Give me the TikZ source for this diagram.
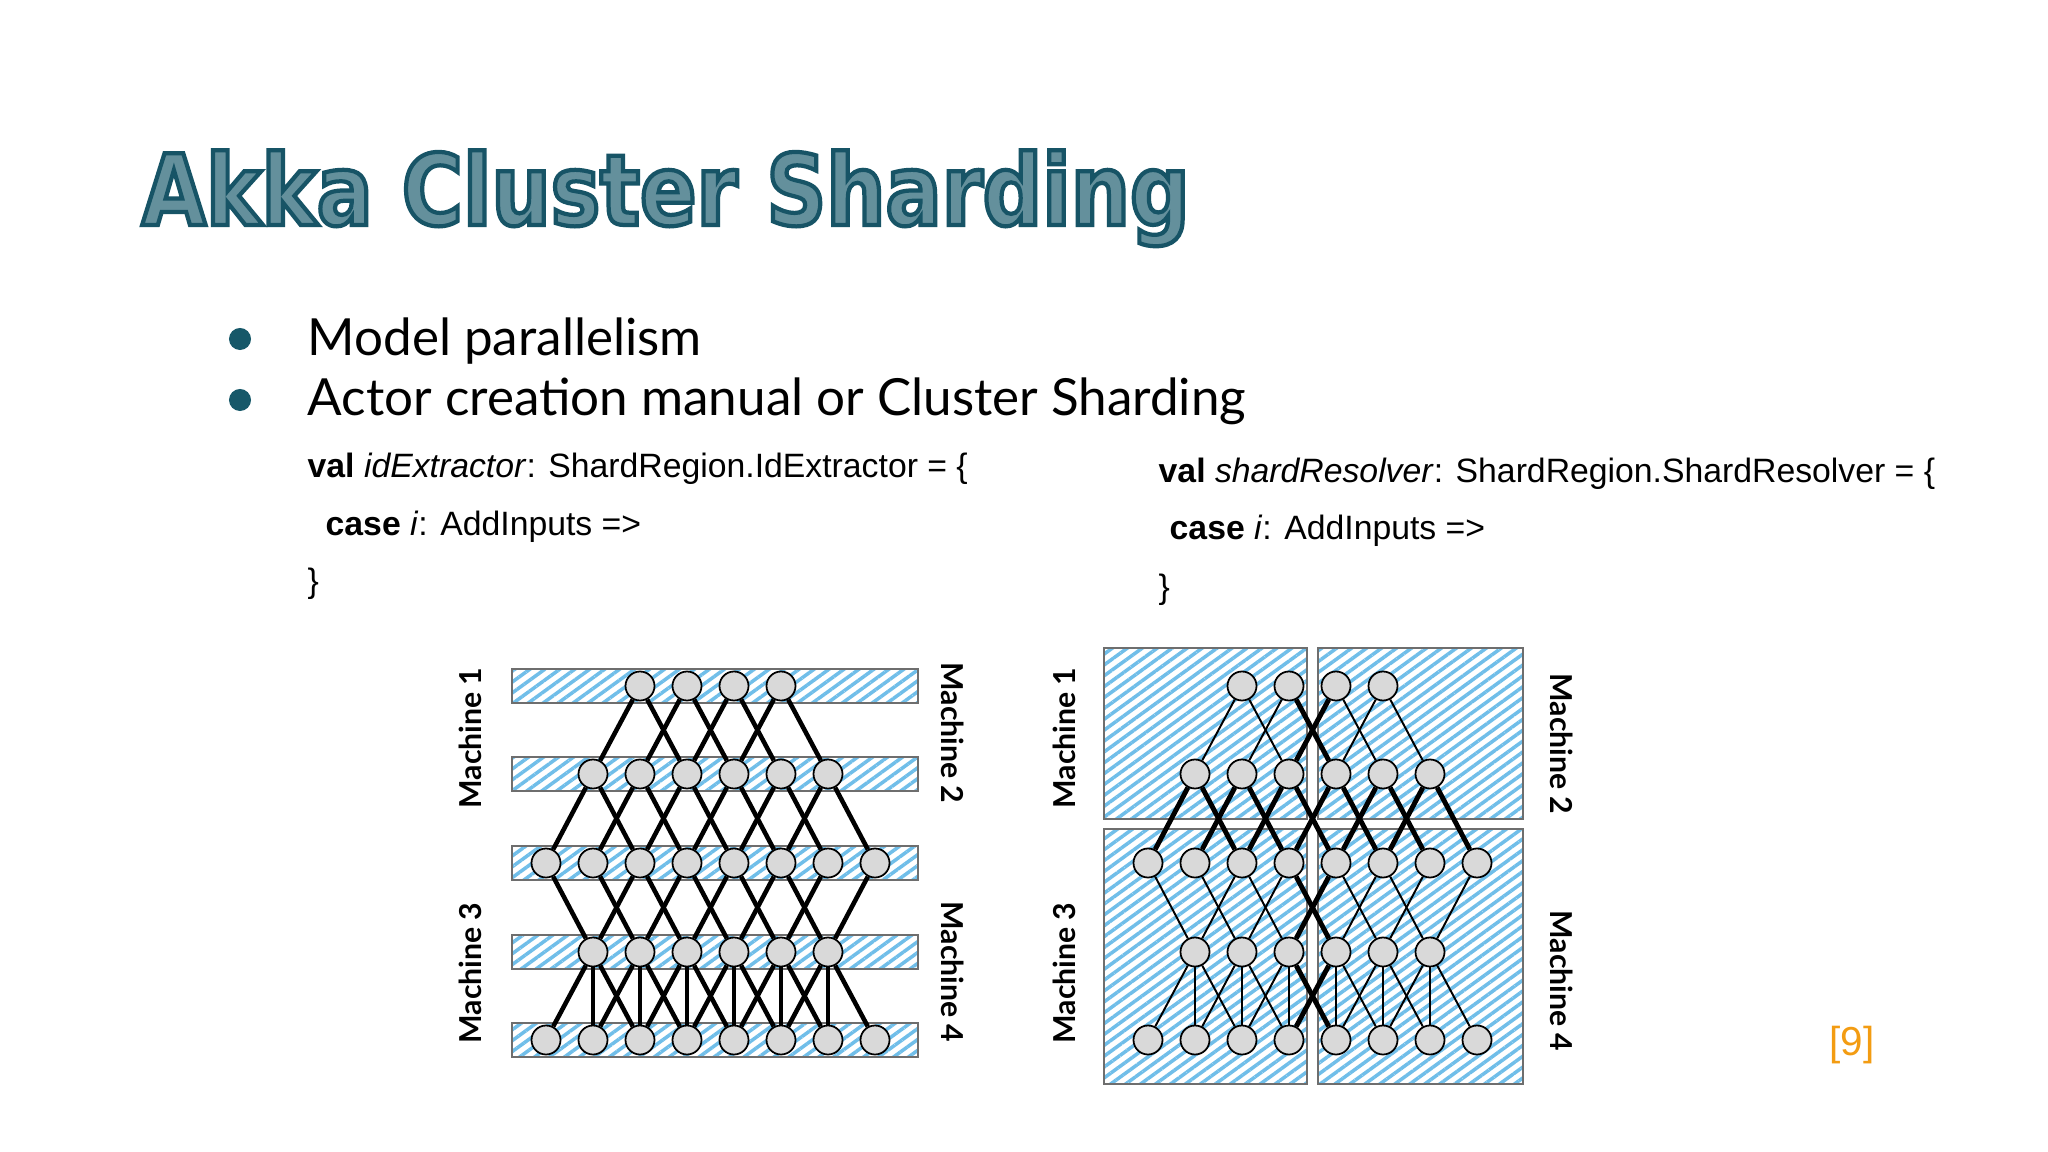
\documentclass[tikz,border=0pt]{standalone}
\usepackage{fontspec}
\setmainfont{Liberation Sans}
\newfontfamily\latofont{Lato}
\newfontfamily\titlefont{DejaVu Sans}[FakeStretch=0.845]
\usepackage{xcolor}
\usetikzlibrary{patterns.meta}

\definecolor{tealdark}{RGB}{22,88,105}
\definecolor{titlefill}{RGB}{100,144,156}
\definecolor{hatchblue}{RGB}{112,190,233}
\definecolor{framegray}{RGB}{110,110,110}
\definecolor{nodegray}{RGB}{217,217,217}
\definecolor{refcolor}{RGB}{243,156,18}

\newcommand\outlinetext[1]{\special{pdf:code q 2 Tr 1.2 w 0.09 0.33 0.40 RG}#1\special{pdf:code Q}}

\begin{document}
\begin{tikzpicture}[
    x=0.01cm, y=-0.01cm,
    unit/.style = {draw, circle, fill=nodegray, line width=0.5pt, minimum size=0.29cm, inner sep=0pt},
    link/.style = {line width=1.3pt},
    link0/.style = {line width=0.55pt},
    link1/.style = {line width=1.4pt},
    shard/.style = {draw=framegray, line width=0.6pt, pattern={Lines[angle=36,distance=2.5pt,line width=1pt]}, pattern color=hatchblue},
    machine/.style = {inner sep=0pt, font=\latofont\bfseries\fontsize{8.6pt}{10pt}\selectfont},
    bullet/.style = {circle, fill=tealdark, minimum size=0.22cm, inner sep=0pt},
    item/.style = {anchor=base west, inner sep=0pt, font=\latofont\fontsize{14.55pt}{17pt}\selectfont},
    code/.style = {anchor=base west, inner sep=0pt, font=\fontsize{9.6pt}{12pt}\selectfont}
]
    \useasboundingbox (0,0) rectangle (2048,1152);
    \fill[white] (0,0) rectangle (2048,1152);

    % title and bullets
    \node[anchor=base west, inner sep=0pt, text=titlefill, font=\titlefont\bfseries\fontsize{28pt}{32pt}\selectfont] (title) at (141,225) {\outlinetext{Akka Cluster Sharding}};
    \node[bullet] (b1) at (240,339) {};
    \node[item] (t1) at (307,356) {Model parallelism};
    \node[bullet] (b2) at (240,400) {};
    \node[item] (t2) at (307,416) {Actor creation manual or Cluster Sharding};

    % code
    \node[code] (c1) at (307,478) {\textbf{val} \textit{idExtractor}: ShardRegion.IdExtractor = \{};
    \node[code] (c2) at (325,535) {\textbf{case} \textit{i}: AddInputs =>};
    \node[code] (c3) at (307,593) {\}};
    \node[code] (d1) at (1158,483) {\textbf{val} \textit{shardResolver}: ShardRegion.ShardResolver = \{};
    \node[code] (d2) at (1169,540) {\textbf{case} \textit{i}: AddInputs =>};
    \node[code] (d3) at (1158,598) {\}};

    % machines
    \foreach \y in {686,774,863,952,1040}
        \draw[shard] (512,\y-17) rectangle (918,\y+17);
    \draw[shard] (1104,648) rectangle (1307,819);
    \draw[shard] (1318,648) rectangle (1523,819);
    \draw[shard] (1104,829) rectangle (1307,1084);
    \draw[shard] (1318,829) rectangle (1523,1084);

    \node[machine, rotate=90] (m1) at (470,738) {Machine 1};
    \node[machine, rotate=90] (m3) at (470,973) {Machine 3};
    \node[machine, rotate=-90] (m2) at (953,733) {Machine 2};
    \node[machine, rotate=-90] (m4) at (953,972) {Machine 4};
    \node[machine, rotate=90] (n1) at (1064,738) {Machine 1};
    \node[machine, rotate=90] (n3) at (1064,973) {Machine 3};
    \node[machine, rotate=-90] (n2) at (1562,744) {Machine 2};
    \node[machine, rotate=-90] (n4) at (1562,981) {Machine 4};

    % units
    \foreach \r/\y/\first/\last in {1/686/2/5, 2/774/1/6, 3/863/0/7, 4/952/1/6, 5/1040/0/7}
        \foreach \i in {\first,...,\last} {
            \node[unit] (L\r-\i) at (546+47*\i,\y) {};
            \node[unit] (R\r-\i) at (1148+47*\i,\y) {};
        }

    % links, layers 1-2 and 2-3
    \foreach \r/\first/\last in {1/2/5, 2/1/6} {
        \pgfmathtruncatemacro\s{\r+1}
        \foreach \k in {\first,...,\last}
            \foreach \d in {-1,1} {
                \pgfmathtruncatemacro\j{\k+\d}
                \pgfmathtruncatemacro\w{(\r==2) || ((\k<4) != (\j<4))}
                \draw[link] (L\r-\k) -- (L\s-\j);
                \draw[link\w] (R\r-\k) -- (R\s-\j);
            }
    }
    % layers 3-4
    \foreach \k in {1,...,6}
        \foreach \d in {-1,1} {
            \pgfmathtruncatemacro\j{\k+\d}
            \pgfmathtruncatemacro\w{(\k<4) != (\j<4)}
            \draw[link] (L3-\j) -- (L4-\k);
            \draw[link\w] (R3-\j) -- (R4-\k);
        }
    % layers 4-5
    \foreach \k in {1,...,6}
        \foreach \d in {-1,0,1} {
            \pgfmathtruncatemacro\j{\k+\d}
            \pgfmathtruncatemacro\w{(\k<4) != (\j<4)}
            \draw[link] (L4-\k) -- (L5-\j);
            \draw[link\w] (R4-\k) -- (R5-\j);
        }

    \node[anchor=base, text=refcolor, font=\fontsize{11.5pt}{13pt}\selectfont] (ref) at (1852,1055) {[9]};
\end{tikzpicture}
\end{document}
